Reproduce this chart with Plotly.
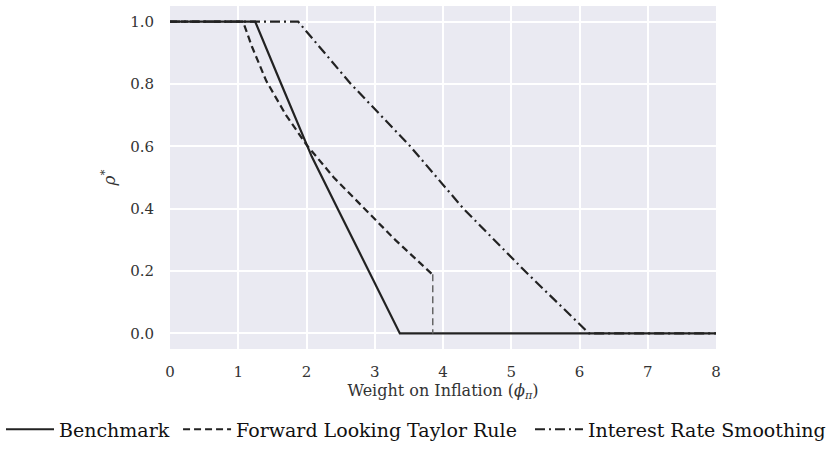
import plotly.graph_objects as go

# Data
bench_x = [0, 1.248, 1.614, 2.077, 2.466, 3.368, 8]
bench_y = [1.0, 1.0, 0.808, 0.567, 0.396, 0.0, 0.0]

fwd_x = [0, 1.07, 1.2, 1.41, 1.7, 2.0, 2.4, 2.8, 3.3, 3.84]
fwd_y = [1.0, 1.0, 0.92, 0.81, 0.70, 0.605, 0.50, 0.41, 0.30, 0.19]

fwd_drop_x = [3.85, 3.85]
fwd_drop_y = [0.19, 0.0]

smooth_x = [0, 1.877, 2.65, 3.52, 4.30, 5.20, 6.14, 8]
smooth_y = [1.0, 1.0, 0.8, 0.6, 0.4, 0.2, 0.0, 0.0]

x_ticks = [0, 1, 2, 3, 4, 5, 6, 7, 8]
y_ticks = [0.0, 0.2, 0.4, 0.6, 0.8, 1.0]
y_tick_labels = ["0.0", "0.2", "0.4", "0.6", "0.8", "1.0"]

LINE = "#222222"
FONT = "DejaVu Serif"

fig = go.Figure()
fig.add_trace(go.Scatter(x=bench_x, y=bench_y, mode="lines", name="Benchmark",
                         legend="legend", line=dict(color=LINE, width=2.2)))
fig.add_trace(go.Scatter(x=fwd_x, y=fwd_y, mode="lines", name="Forward Looking Taylor Rule",
                         legend="legend2", line=dict(color=LINE, width=2.2, dash="7px,4px")))
fig.add_trace(go.Scatter(x=fwd_drop_x, y=fwd_drop_y, mode="lines", showlegend=False,
                         line=dict(color="#666666", width=1.5, dash="7px,4px")))
fig.add_trace(go.Scatter(x=smooth_x, y=smooth_y, mode="lines", name="Interest Rate Smoothing",
                         legend="legend3",
                         line=dict(color=LINE, width=2.2, dash="10px,4px,2px,4px")))


def leg(xpos):
    return dict(orientation="h", xref="container", x=xpos, xanchor="left",
                yref="container", y=0.05, yanchor="middle",
                font=dict(family=FONT, size=19, color="#111111"),
                itemwidth=48, bgcolor="rgba(0,0,0,0)")


fig.update_layout(
    width=832, height=452,
    margin=dict(l=170, r=116, t=6, b=103),
    paper_bgcolor="white",
    plot_bgcolor="#EAEAF2",
    font=dict(family=FONT, size=15, color="#333333"),
    legend=leg(0.0012),
    legend2=leg(0.214),
    legend3=leg(0.637),
    xaxis=dict(range=[0, 8], tickvals=x_ticks, showgrid=True, gridcolor="white",
               gridwidth=1.5, zeroline=False, showline=False, ticks="",
               ticklabelstandoff=12,
               title=dict(text="Weight on Inflation (<i>ϕ</i><sub><i>π</i></sub>)",
                          font=dict(family=FONT, size=16, color="#333333"), standoff=4)),
    yaxis=dict(range=[-0.05, 1.05], tickvals=y_ticks, ticktext=y_tick_labels,
               showgrid=True, gridcolor="white", gridwidth=1.5, zeroline=False,
               showline=False, ticks="", ticklabelstandoff=15,
               title=dict(text="<i>ρ</i><sup>*</sup>",
                          font=dict(family=FONT, size=17, color="#333333"), standoff=10)),
)

fig.write_html("out.html", config={"displayModeBar": False},
               post_script="document.body.style.margin='0';")
